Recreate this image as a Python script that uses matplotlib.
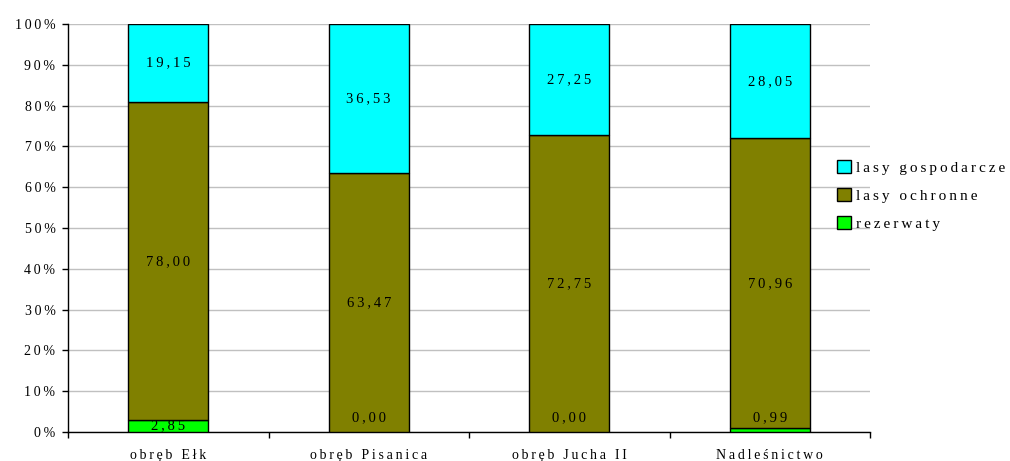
import matplotlib
matplotlib.use('Agg')
import matplotlib.pyplot as plt
import numpy as np

categories = ['obręb Ełk', 'obręb Pisanica', 'obręb Jucha II', 'Nadleśnictwo']
rezerwaty = [2.85, 0.00, 0.00, 0.99]
ochronne = [78.00, 63.47, 72.75, 70.96]
gospodarcze = [19.15, 36.53, 27.25, 28.05]
series_names = ['rezerwaty', 'lasy ochronne', 'lasy gospodarcze']
colors = ['#00FF00', '#808000', '#00FFFF']
yticks = np.arange(0, 101, 10)

plt.rcParams['font.family'] = ['Liberation Serif', 'DejaVu Serif']
plt.rcParams['font.size'] = 10


def spaced(s):
    # wide letter spacing as in the original chart
    return '\u2009'.join(s)


fig = plt.figure(figsize=(10.1, 4.61), dpi=100)
ax = fig.add_axes([68 / 1010, 29 / 461, 802 / 1010, 408 / 461])

x = np.arange(len(categories))
bottom = np.zeros(len(categories))
handles = []
for name, vals, col in zip(series_names, [rezerwaty, ochronne, gospodarcze], colors):
    vals = np.array(vals)
    b = ax.bar(x, vals, bottom=bottom, width=0.4, color=col, edgecolor='black',
               linewidth=1, label=name, zorder=3)
    handles.append(b)
    for xi, v, b0 in zip(x, vals, bottom):
        if name == 'rezerwaty':
            y = v / 2 if v >= 2 else 3.6
        else:
            y = b0 + v / 2
        ax.text(xi, y, spaced('{:.2f}'.format(v).replace('.', ',')), ha='center',
                va='center', fontsize=10.5, zorder=4)
    bottom = bottom + vals

ax.set_xlim(-0.5, len(categories) - 0.5)
ax.set_ylim(0, 100)
ax.set_yticks(yticks)
ax.set_yticklabels([spaced('{}%'.format(t)) for t in yticks])
ax.yaxis.grid(True, color='#c0c0c0', linewidth=1, zorder=0)
ax.set_axisbelow(True)

ax.set_xticks(np.arange(-0.5, len(categories)), minor=False)
ax.set_xticklabels([])
ax.set_xticks(x, minor=True)
ax.set_xticklabels([spaced(c) for c in categories], minor=True)
ax.tick_params(axis='x', which='minor', length=0, pad=12)
ax.tick_params(axis='x', which='major', length=4, width=1, direction='out')
ax.tick_params(axis='y', length=4, width=1, direction='out', pad=5)

for s in ['top', 'right']:
    ax.spines[s].set_visible(False)
for s in ['left', 'bottom']:
    ax.spines[s].set_linewidth(1)

fig.legend(handles[::-1], [spaced(n) for n in series_names[::-1]], loc='upper left',
           bbox_to_anchor=(823 / 1010, 1 - 146 / 461), frameon=False,
           handlelength=0.95, handleheight=0.95, handletextpad=0.3,
           labelspacing=0.88, fontsize=11)

fig.savefig('out.png', dpi=100)
